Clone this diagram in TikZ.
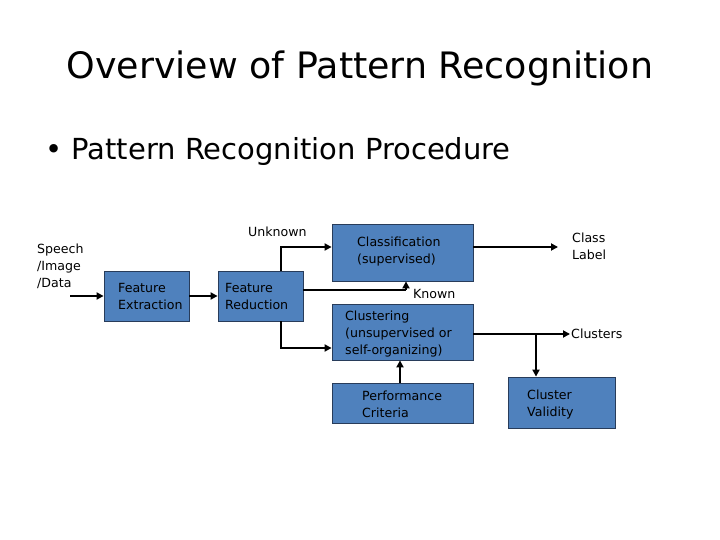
\documentclass[tikz,border=0pt]{standalone}
\usepackage{fontspec}
\setmainfont{DejaVu Sans}
\usetikzlibrary{arrows.meta,calc}
\definecolor{boxfill}{RGB}{79,129,189}
\definecolor{boxline}{RGB}{40,60,90}
\tikzset{
  pbox/.style={draw=boxline,line width=0.8pt,fill=boxfill,inner sep=0pt},
  lbl/.style={font=\fontsize{12.6}{17}\selectfont,inner sep=0pt,align=left,anchor=west},
  arr/.style={line width=1.8pt,-{Triangle[length=7pt,width=7pt]}},
  thinl/.style={line width=1.2pt}
}
\begin{document}
\begin{tikzpicture}[x=1pt,y=-1pt]
\useasboundingbox (0,0) rectangle (720,540);
% title
\node (title) at (360,68) {\fontsize{36.4}{40}\selectfont Overview of Pattern Recognition};
\node[anchor=west,inner sep=0pt] (sub) at (45,151) {\fontsize{29}{32}\selectfont • Pattern Recognition Procedure};
% boxes
\node[pbox,minimum width=85pt,minimum height=50pt] (fe) at (146.5,296) {};
\node[pbox,minimum width=85pt,minimum height=50pt] (fr) at (260.5,296) {};
\node[pbox,minimum width=141pt,minimum height=57pt] (cls) at (402.5,252.5) {};
\node[pbox,minimum width=141pt,minimum height=56pt] (clu) at (402.5,332) {};
\node[pbox,minimum width=141pt,minimum height=40pt] (pc) at (402.5,403) {};
\node[pbox,minimum width=107pt,minimum height=51pt] (cv) at (561.5,402.5) {};
% texts
\node[lbl] (tin) at (37,266) {Speech\\/Image\\/Data};
\node[lbl] (tfe) at (118,296) {Feature\\Extraction};
\node[lbl] (tfr) at (225,296) {Feature\\Reduction};
\node[lbl] (tunk) at (248,232) {Unknown};
\node[lbl] (tcls) at (357,251.5) {Classification\\(supervised)};
\node[lbl] (tcl) at (572,246) {Class\\Label};
\node[lbl] (tkn) at (413,294) {Known};
\node[lbl] (tclu) at (345,334) {Clustering\\(unsupervised or\\self-organizing)};
\node[lbl] (tcst) at (571,334) {Clusters};
\node[lbl] (tpc) at (362,404.5) {Performance\\Criteria};
\node[lbl] (tcv) at (527,405) {Cluster\\Validity};
% connectors
\coordinate (in) at (70,296);
\draw[arr] (in) -- (fe.west);
\draw[arr] (fe.east) -- (fr.west);
\coordinate (ub) at (281,247);
\draw[arr] (fr.north -| ub) -- (ub) -- (ub -| cls.west);
\coordinate (lb) at (281,348);
\draw[arr] (fr.south -| lb) -- (lb) -- (lb -| clu.west);
\coordinate (kn) at (406,290);
\draw[thinl] (fr.east |- kn) -- (kn);
\draw[arr] (kn) -- (kn |- cls.south);
\coordinate (clt) at (558,247);
\draw[arr] (cls.east |- clt) -- (clt);
\coordinate (clst) at (570,334);
\draw[arr] (clu.east |- clst) -- (clst);
\coordinate (vj) at (536,334);
\draw[arr] (vj) -- (vj |- cv.north);
\coordinate (pj) at (400,383);
\draw[arr] (pj) -- (pj |- clu.south);
\end{tikzpicture}
\end{document}
